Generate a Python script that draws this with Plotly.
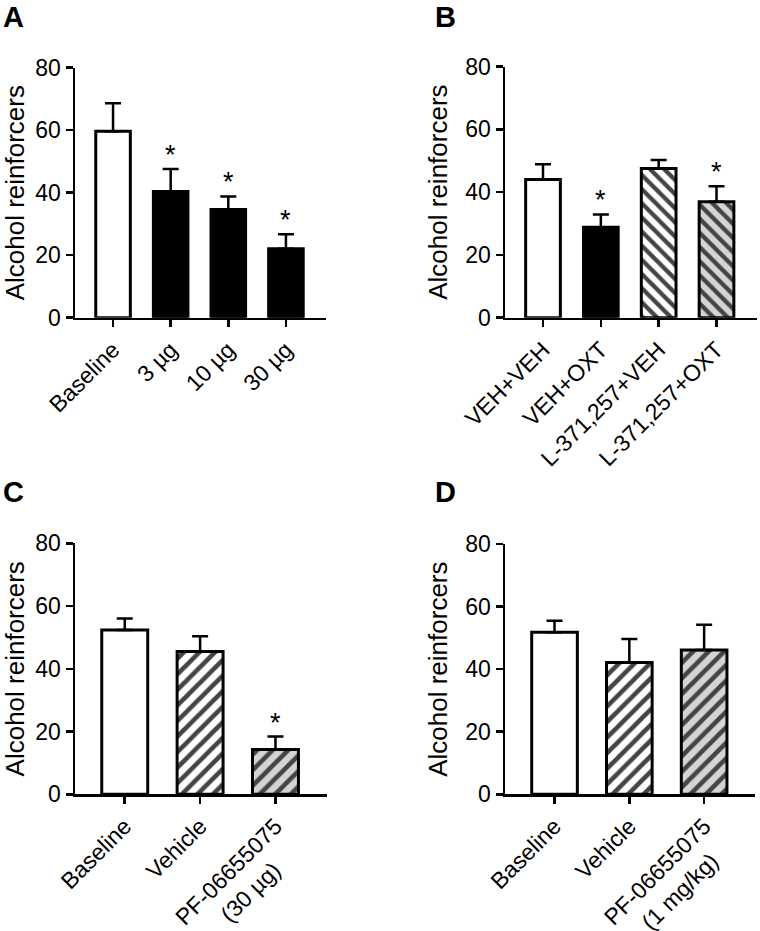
import plotly.graph_objects as go

# ---------------- data ----------------
a_labels = ["Baseline", "3 µg", "10 µg", "30 µg"]
a_means = [59.7, 40.4, 34.6, 22.1]
a_sem = [8.9, 7.2, 4.2, 4.6]
a_sig = [False, True, True, True]

b_labels = ["VEH+VEH", "VEH+OXT", "L-371,257+VEH", "L-371,257+OXT"]
b_means = [44.0, 28.8, 47.5, 36.9]
b_sem = [4.9, 4.1, 2.7, 5.0]
b_sig = [False, True, False, True]

NB = "\u00a0"
c_labels = ["Baseline", "Vehicle", "PF-06655075<br>(30 µg)" + NB * 5]
c_means = [52.4, 45.5, 14.3]
c_sem = [3.6, 4.9, 4.1]
c_sig = [False, False, True]

d_labels = ["Baseline", "Vehicle", "PF-06655075<br>(1 mg/kg)" + NB * 3]
d_means = [51.8, 42.1, 46.1]
d_sem = [3.7, 7.5, 8.1]
d_sig = [False, False, False]

y_ticks = [0, 20, 40, 60, 80]
y_title = "Alcohol reinforcers"

W, H = 760, 931
FONT = "Arial, 'Liberation Sans', Helvetica, sans-serif"

panels = [
    dict(letter="A", labels=a_labels, means=a_means, sem=a_sem, sig=a_sig,
         bg=["white", "black", "black", "black"], shape=["", "", "", ""],
         xd=(75, 325.7), yd=(67.7, 317.7), xr=(-0.66, 3.69), bw=0.6, ps=10, lp=(2, 0)),
    dict(letter="B", labels=b_labels, means=b_means, sem=b_sem, sig=b_sig,
         bg=["white", "black", "white", "#d4d4d4"], shape=["", "", "\\", "\\"],
         xd=(505, 757), yd=(66.5, 317.7), xr=(-0.657, 3.70), bw=0.6, ps=10, lp=(434, 0)),
    dict(letter="C", labels=c_labels, means=c_means, sem=c_sem, sig=c_sig,
         bg=["white", "white", "#d4d4d4"], shape=["", "/", "/"],
         xd=(75, 326.7), yd=(543.3, 794.3), xr=(-0.66, 2.68), bw=0.61, ps=11, lp=(2, 475)),
    dict(letter="D", labels=d_labels, means=d_means, sem=d_sem, sig=d_sig,
         bg=["white", "white", "#d4d4d4"], shape=["", "/", "/"],
         xd=(505, 755), yd=(544, 794.3), xr=(-0.662, 2.68), bw=0.61, ps=11, lp=(434, 475)),
]

fig = go.Figure()
annotations = []
layout = {}

for i, p in enumerate(panels):
    n = i + 1
    xs = "" if n == 1 else str(n)
    xref, yref = "x" + xs, "y" + xs
    cats = list(range(len(p["labels"])))
    fig.add_trace(go.Bar(
        x=cats, y=p["means"], width=p["bw"],
        xaxis=xref, yaxis=yref, showlegend=False, hoverinfo="skip",
        marker=dict(
            color=p["bg"],
            line=dict(color="black", width=3),
            pattern=dict(shape=p["shape"], fgcolor=["black"] * len(cats),
                         size=p["ps"], solidity=0.42, fillmode="overlay",
                         fgopacity=1),
        ),
        error_y=dict(type="data", symmetric=False, array=p["sem"],
                     arrayminus=[0] * len(cats), color="black",
                     thickness=2.5, width=8),
    ))
    layout["xaxis" + xs] = dict(
        domain=[p["xd"][0] / W, p["xd"][1] / W], range=list(p["xr"]),
        anchor=yref, showline=True, linecolor="black", linewidth=2.5,
        ticks="outside", ticklen=7, tickwidth=2.5, tickcolor="black",
        tickvals=cats, ticktext=p["labels"], tickangle=-45,
        tickfont=dict(family=FONT, size=23, color="black"),
        showgrid=False, zeroline=False, fixedrange=True, automargin=False,
    )
    layout["yaxis" + xs] = dict(
        domain=[1 - p["yd"][1] / H, 1 - p["yd"][0] / H], range=[0, 80],
        anchor=xref, showline=True, linecolor="black", linewidth=2.5,
        ticks="outside", ticklen=7, tickwidth=2.5, tickcolor="black",
        tickvals=y_ticks, tickfont=dict(family=FONT, size=23, color="black"),
        title=dict(text=y_title, font=dict(family=FONT, size=26, color="black"), standoff=10),
        showgrid=False, zeroline=False, fixedrange=True, automargin=False,
    )
    for c, m, s, sg in zip(cats, p["means"], p["sem"], p["sig"]):
        if sg:
            annotations.append(dict(
                x=c, y=m + s, xref=xref, yref=yref, text="*", showarrow=False,
                yanchor="bottom", yshift=-3,
                font=dict(family=FONT, size=27, color="black"),
            ))
    annotations.append(dict(
        x=p["lp"][0] / W, y=1 - p["lp"][1] / H, xref="paper", yref="paper",
        xanchor="left", yanchor="top", text="<b>%s</b>" % p["letter"],
        showarrow=False, borderpad=0, font=dict(family=FONT, size=29, color="black"),
    ))

fig.update_layout(
    width=W, height=H, margin=dict(l=0, r=0, t=0, b=0),
    paper_bgcolor="white", plot_bgcolor="white",
    annotations=annotations, bargap=0.4,
    **layout,
)

fig.write_html("out.html", config={"displayModeBar": False, "staticPlot": True},
               post_script="document.body.style.margin='0px';document.body.style.overflow='hidden';")
